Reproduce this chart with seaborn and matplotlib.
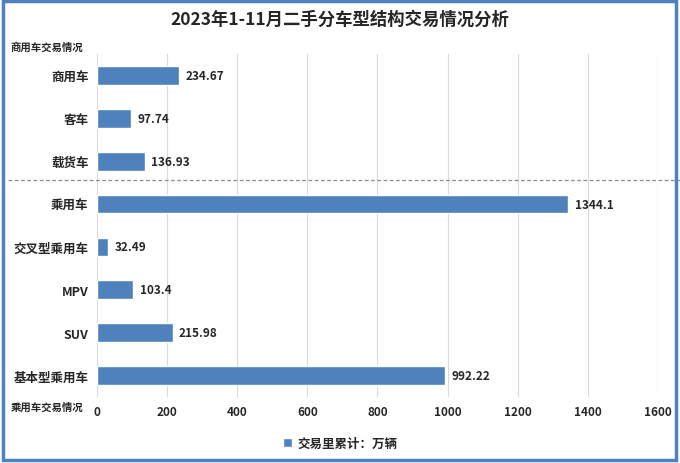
import pandas as pd
import numpy as np
from matplotlib import pyplot as plt
from matplotlib.patches import Rectangle
import seaborn as sns

categories = ['商用车', '客车', '载货车', '乘用车', '交叉型乘用车', 'MPV', 'SUV', '基本型乘用车']
values = [234.67, 97.74, 136.93, 1344.1, 32.49, 103.4, 215.98, 992.22]
value_labels = ['234.67', '97.74', '136.93', '1344.1', '32.49', '103.4', '215.98', '992.22']
x_ticks = [0, 200, 400, 600, 800, 1000, 1200, 1400, 1600]
legend_label = '交易里累计：万辆'

data = pd.DataFrame({'车型': categories, '交易量': values})

sns.set_theme(style="white")
plt.rcParams['font.family'] = ['Noto Sans CJK SC', 'DejaVu Sans']
plt.rcParams['font.weight'] = 'bold'

fig = plt.figure(figsize=(6.8, 4.64), dpi=100)
ax = fig.add_axes([0.1426, 0.1422, 0.825, 0.7393])

sns.barplot(x='交易量', y='车型', data=data, color='#4F81BD', width=0.44,
            saturation=1, ax=ax, label=legend_label)

ax.set_xlim(0, 1600)
ax.set_xticks(x_ticks)
ax.set_xticklabels([str(t) for t in x_ticks], fontsize=8.5, fontweight='bold')
ax.tick_params(axis='y', labelsize=9, length=0, pad=6)
ax.tick_params(axis='x', length=0, pad=6)
for lab in ax.get_yticklabels():
    lab.set_fontweight('bold')
ax.set_xlabel('')
ax.set_ylabel('')
ax.grid(axis='x', color='#D9D9D9', linewidth=0.8)
ax.set_axisbelow(True)
for s in ax.spines.values():
    s.set_visible(False)

for i, (v, t) in enumerate(zip(values, value_labels)):
    ax.text(v + 18, i, t, va='center', ha='left', fontsize=8.5, fontweight='bold')

# dashed separator between commercial and passenger groups
fig.add_artist(plt.Line2D([0.012, 1.0], [1 - 181 / 464, 1 - 181 / 464],
                          transform=fig.transFigure, color='#8C8C8C',
                          linestyle=(0, (3, 2)), linewidth=0.9))

fig.text(0.5, 1 - 20 / 464, '2023年1-11月二手分车型结构交易情况分析',
         ha='center', va='center', fontsize=12.5, fontweight='bold')
fig.text(0.016, 1 - 47 / 464, '商用车交易情况', ha='left', va='center',
         fontsize=7.5, fontweight='heavy')
fig.text(0.016, 1 - 408 / 464, '乘用车交易情况', ha='left', va='center',
         fontsize=7.5, fontweight='heavy')

leg = ax.legend(loc='center', bbox_to_anchor=(0.5, 1 - 444 / 464),
                bbox_transform=fig.transFigure, frameon=False,
                prop={'size': 9, 'weight': 'bold'}, handlelength=0.75,
                handleheight=0.75, handletextpad=0.4)

fig.add_artist(Rectangle((0.004, 0.006), 0.99, 0.99, transform=fig.transFigure,
                         fill=False, edgecolor='#4F81BD', linewidth=2.5))

plt.savefig('out.png', dpi=100)
